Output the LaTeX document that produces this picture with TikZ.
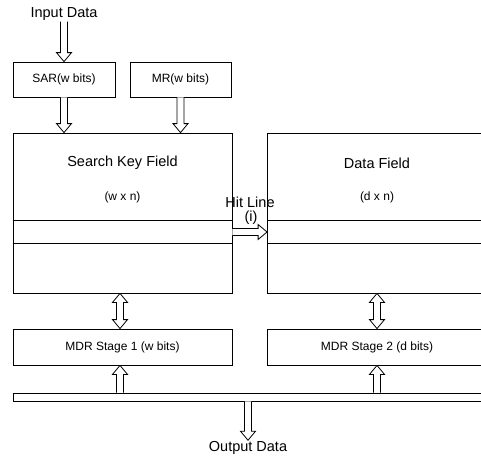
\documentclass[tikz,border=0pt]{standalone}
\usepackage{fontspec}
\setmainfont{Liberation Sans}
\usetikzlibrary{calc}

\tikzset{
  bigtext/.style={inner sep=1pt, font=\fontsize{14.5}{17}\selectfont},
  smalltext/.style={inner sep=1pt, font=\fontsize{12}{14}\selectfont},
  regbox/.style={draw, line width=0.8pt, minimum height=35pt, inner sep=0pt, smalltext},
  fieldbox/.style={draw, line width=0.8pt, minimum width=219pt, minimum height=160pt, inner sep=0pt},
  mdrbox/.style={draw, line width=0.8pt, minimum width=219pt, minimum height=36pt, inner sep=0pt, smalltext},
  busbar/.style={draw, line width=0.8pt, minimum width=473pt, minimum height=8pt, inner sep=0pt},
  rowline/.style={line width=0.7pt},
  arrowline/.style={draw, fill=white, line width=0.8pt, line join=miter}
}

\newcommand{\fatarrow}[2]{%
  \coordinate (fa-s) at (#1);
  \coordinate (fa-e) at (#2);
  \coordinate (fa-b) at ($(fa-e)!9pt!(fa-s)$);
  \draw[arrowline] ($(fa-s)!3.5pt!90:(fa-e)$) -- ($(fa-b)!3.5pt!90:(fa-e)$)
    -- ($(fa-b)!7.5pt!90:(fa-e)$) -- (fa-e) -- ($(fa-b)!7.5pt!-90:(fa-e)$)
    -- ($(fa-b)!3.5pt!-90:(fa-e)$) -- ($(fa-s)!3.5pt!-90:(fa-e)$);
}
\newcommand{\fatdarrow}[2]{%
  \coordinate (fa-s) at (#1);
  \coordinate (fa-e) at (#2);
  \coordinate (fa-a) at ($(fa-s)!9pt!(fa-e)$);
  \coordinate (fa-b) at ($(fa-e)!9pt!(fa-s)$);
  \draw[arrowline] (fa-s) -- ($(fa-a)!7.5pt!90:(fa-e)$) -- ($(fa-a)!3.5pt!90:(fa-e)$)
    -- ($(fa-b)!3.5pt!90:(fa-e)$) -- ($(fa-b)!7.5pt!90:(fa-e)$) -- (fa-e)
    -- ($(fa-b)!7.5pt!-90:(fa-e)$) -- ($(fa-b)!3.5pt!-90:(fa-e)$)
    -- ($(fa-a)!3.5pt!-90:(fa-e)$) -- ($(fa-a)!7.5pt!-90:(fa-e)$) -- cycle;
}

\begin{document}
\begin{tikzpicture}[x=1pt, y=-1pt]
\clip (0,0) rectangle (481,458);
\fill[white] (0,0) rectangle (481,458);

\node[bigtext] (input) at (64,14) {Input Data};
\node[regbox, minimum width=102pt] (sar) at (64,79.5) {SAR(w bits)};
\node[regbox, minimum width=101pt] (mr) at (180.5,79.5) {MR(w bits)};

\node[fieldbox] (skf) at (122.5,213) {};
\node[fieldbox] (df) at (377,213) {};
\node[bigtext] (skfname) at (122.5,163) {Search Key Field};
\node[smalltext] (skfsize) at (122.5,197) {(w x n)};
\node[bigtext] (dfname) at (377,163) {Data Field};
\node[smalltext] (dfsize) at (377,197) {(d x n)};
\draw[rowline] (skf.west |- 0,220) -- (skf.east |- 0,220);
\draw[rowline] (skf.west |- 0,243) -- (skf.east |- 0,243);
\draw[rowline] (df.west |- 0,220) -- (df.east |- 0,220);
\draw[rowline] (df.west |- 0,243) -- (df.east |- 0,243);

\node[bigtext] (hit) at (250,202) {Hit Line};
\node[bigtext] (hitidx) at (251,218) {(i)};

\node[mdrbox] (mdr1) at (122.5,347) {MDR Stage 1 (w bits)};
\node[mdrbox] (mdr2) at (377,347) {MDR Stage 2 (d bits)};
\node[busbar] (bus) at (249.5,397) {};
\node[bigtext] (output) at (248,448) {Output Data};

\fatarrow{input.south}{input.south |- sar.north}
\fatarrow{sar.south}{sar.south |- skf.north}
\fatarrow{mr.south}{mr.south |- skf.north}
\fatarrow{skf.east |- 0,232}{df.west |- 0,232}
\fatdarrow{skf.south -| 120,0}{mdr1.north -| 120,0}
\fatdarrow{df.south}{mdr2.north}
\fatarrow{bus.north -| 120,0}{mdr1.south -| 120,0}
\fatarrow{bus.north -| mdr2.south}{mdr2.south}
\fatarrow{bus.south -| output.north}{output.north}
\end{tikzpicture}
\end{document}
